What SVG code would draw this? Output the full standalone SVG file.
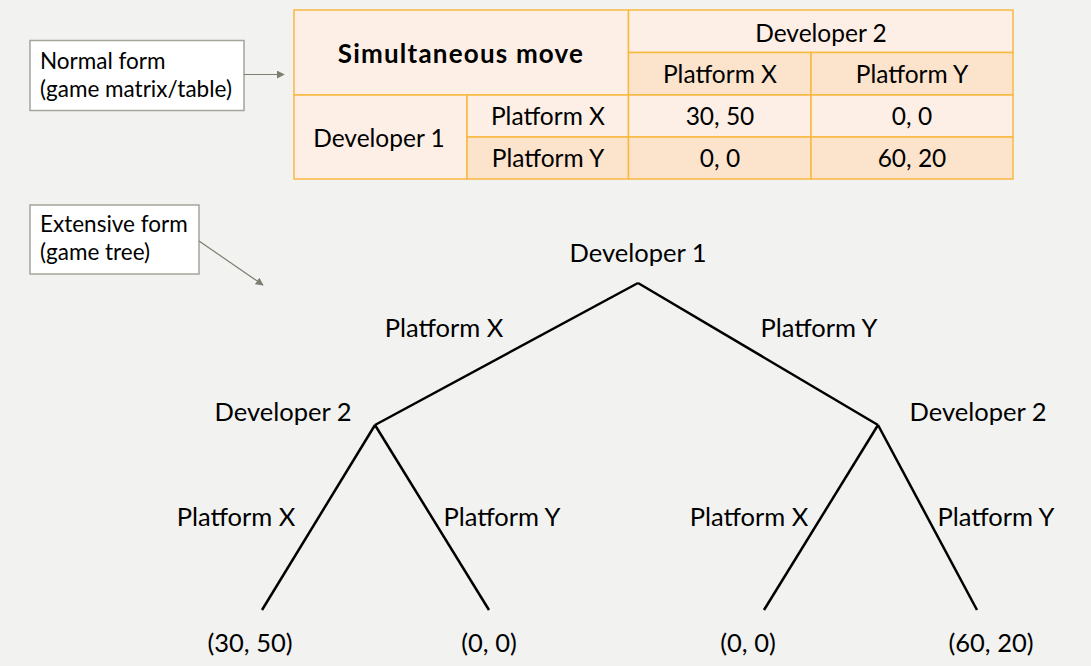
<svg xmlns="http://www.w3.org/2000/svg" width="1091" height="666" viewBox="0 0 1091 666">
<defs>
<style>
text{font-family:Lato,"Open Sans","Liberation Sans",sans-serif;fill:#000;}
.t{font-size:24.5px;text-anchor:middle;}
.r{font-size:25.5px;text-anchor:middle;}
.b{font-weight:bold;font-size:26px;letter-spacing:1.2px;}
.lt{fill:#fdefe5;stroke:#f7b940;stroke-width:1.5;}
.dk{fill:#fce3cc;stroke:#f7b940;stroke-width:1.5;}
.box{fill:#fff;stroke:#a5a59b;stroke-width:1.5;}
.bx{font-size:22.5px;}
.edge{stroke:#000;stroke-width:2.5;fill:none;stroke-linecap:butt;}
.call{stroke:#7d7f70;stroke-width:1.2;fill:none;}
</style>
<marker id="ah" viewBox="0 0 10 10" refX="9" refY="5" markerWidth="8" markerHeight="8" markerUnits="userSpaceOnUse" orient="auto">
<path d="M0,0 L10,5 L0,10 z" fill="#7d7f70"/>
</marker>
</defs>
<rect width="1091" height="666" fill="#f2f2f1"/>

<g id="table">
<rect class="lt" x="294" y="10" width="334.5" height="85"/>
<rect class="lt" x="628.5" y="10" width="384.5" height="42.5"/>
<rect class="dk" x="628.5" y="52.5" width="182.5" height="42.5"/>
<rect class="dk" x="811" y="52.5" width="202" height="42.5"/>
<rect class="lt" x="294" y="95" width="173" height="84"/>
<rect class="lt" x="467" y="95" width="161.5" height="42"/>
<rect class="dk" x="467" y="137" width="161.5" height="42"/>
<rect class="lt" x="628.5" y="95" width="182.5" height="42"/>
<rect class="lt" x="811" y="95" width="202" height="42"/>
<rect class="dk" x="628.5" y="137" width="182.5" height="42"/>
<rect class="dk" x="811" y="137" width="202" height="42"/>
<text class="t b" x="461" y="63">Simultaneous move</text>
<text class="t" x="821" y="42">Developer 2</text>
<text class="t" x="720" y="83">Platform X</text>
<text class="t" x="912" y="83">Platform Y</text>
<text class="t" x="379" y="147">Developer 1</text>
<text class="t" x="548" y="125">Platform X</text>
<text class="t" x="548" y="167">Platform Y</text>
<text class="t" x="720" y="125">30, 50</text>
<text class="t" x="912" y="125">0, 0</text>
<text class="t" x="720" y="167">0, 0</text>
<text class="t" x="912" y="167">60, 20</text>
</g>

<g id="normal-form">
<rect class="box" x="30" y="40.5" width="214" height="70"/>
<text class="bx" x="40" y="69">Normal form</text>
<text class="bx" x="40" y="97">(game matrix/table)</text>
</g>

<g id="extensive-form">
<rect class="box" x="30" y="205" width="169" height="69"/>
<text class="bx" x="40" y="232">Extensive form</text>
<text class="bx" x="40" y="260">(game tree)</text>
</g>

<g id="callouts">
<line class="call" x1="244" y1="74.5" x2="284" y2="74.5" marker-end="url(#ah)"/>
<line class="call" x1="199" y1="241" x2="263" y2="285" marker-end="url(#ah)"/>
</g>

<g id="connectors">
<line class="edge" x1="638" y1="283" x2="375" y2="425"/>
<line class="edge" x1="638" y1="283" x2="878" y2="425"/>
<line class="edge" x1="375" y1="425" x2="262" y2="610"/>
<line class="edge" x1="375" y1="425" x2="489" y2="610"/>
<line class="edge" x1="878" y1="425" x2="764" y2="610"/>
<line class="edge" x1="878" y1="425" x2="977" y2="610"/>
</g>

<g id="root"><text class="r" x="638" y="262">Developer 1</text></g>
<g id="d2-left"><text class="r" x="283" y="421">Developer 2</text></g>
<g id="d2-right"><text class="r" x="978" y="421">Developer 2</text></g>
<g id="leaf1"><text class="r" x="250" y="652">(30, 50)</text></g>
<g id="leaf2"><text class="r" x="489" y="652">(0, 0)</text></g>
<g id="leaf3"><text class="r" x="748" y="652">(0, 0)</text></g>
<g id="leaf4"><text class="r" x="991" y="652">(60, 20)</text></g>
<g id="edge-labels">
<text class="r" x="444" y="337">Platform X</text>
<text class="r" x="819" y="337">Platform Y</text>
<text class="r" x="236" y="526">Platform X</text>
<text class="r" x="502" y="526">Platform Y</text>
<text class="r" x="749" y="526">Platform X</text>
<text class="r" x="996" y="526">Platform Y</text>
</g>
</svg>
